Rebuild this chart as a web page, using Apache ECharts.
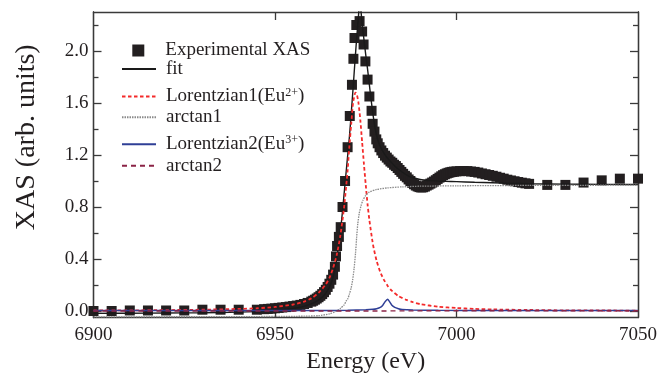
<!DOCTYPE html>
<html>
<head>
<meta charset="utf-8">
<script src="https://cdn.jsdelivr.net/npm/echarts@6/dist/echarts.min.js"></script>
<style>html,body{margin:0;padding:0;background:#fff}#c{width:660px;height:382px}</style>
</head>
<body>
<div id="c"></div>
<script>
// ---- Experimental XAS (energy in eV, normalized XAS) ----
const expEnergy = [6900,6905,6910,6915,6920,6925,6930,6935,6940,6945,
  6947,6948,6949,6950,6951,6952,6953,6954,6955,6956,6957,6958,6959,6960,
  6960.5,6961,6961.5,6962,6962.5,6963,6963.5,6964,6964.5,6965,6965.5,6966,6966.5,6966.8,
  6967.1,6967.6,6968.1,6968.6,6969.3,6970.0,6970.6,6971.2,6971.6,6971.9,6972.4,6973.3,
  6974.0,6974.4,6974.9,6975.5,6976.0,6976.6,6976.9,6977.4,6977.9,6978.3,6978.8,6979.3,
  6979.8,6980.3,6980.8,6981.3,6981.8,6982.3,6982.8,6983.3,6983.8,6984.3,6984.8,6985.3,
  6985.8,6986.3,6986.8,6987.3,6987.8,6988.3,6988.8,6989.3,6989.8,6990.3,6990.8,6991.3,
  6991.8,6992.3,6992.8,6993.3,6993.8,6994.3,6994.8,6995.3,6995.8,6996.3,6996.8,6997.3,
  6997.8,6998.3,6998.8,6999.3,7000,7001,7002,7003,7004,7005,7006,7007,7008,7009,7010,
  7011,7012,7013,7014,7015,7016,7017,7018,7019,7020,
  7025,7030,7035,7040,7045,7050];
const expXAS = [0.0,0.0,0.004,0.004,0.004,0.004,0.01,0.01,0.01,0.01,
  0.014,0.016,0.018,0.021,0.024,0.027,0.030,0.034,0.038,0.042,0.047,0.054,0.062,0.072,
  0.079,0.087,0.096,0.106,0.117,0.130,0.145,0.163,0.185,0.21,0.24,0.28,0.34,0.42,
  0.50,0.57,0.645,0.80,1.0,1.26,1.5,1.74,1.94,2.1,2.2,2.23,
  2.15,2.05,1.92,1.78,1.65,1.54,1.44,1.38,1.32,1.29,1.26,1.235,
  1.215,1.195,1.18,1.165,1.15,1.14,1.125,1.115,1.10,1.085,1.07,1.055,
  1.04,1.028,1.012,1.0,0.985,0.975,0.965,0.958,0.953,0.95,0.952,0.957,
  0.965,0.972,0.98,0.988,0.996,1.006,1.016,1.026,1.036,1.045,1.052,1.058,
  1.063,1.067,1.07,1.072,1.074,1.076,1.077,1.076,1.073,1.07,1.065,1.058,1.052,1.046,1.04,
  1.033,1.025,1.018,1.01,1.004,0.998,0.992,0.987,0.982,0.978,
  0.97,0.97,0.988,1.005,1.018,1.018];

// ---- fit ----
const fitEnergy = [6900,6910,6920,6930,6940,6945,6950,6953,6956,6958,6960,6962,6963,6964,6965,6966,
  6967,6967.5,6968,6968.5,6969,6969.5,6970,6970.5,6971,6971.5,6972,6972.5,6973,6973.3,6973.6,
  6974,6974.5,6975,6975.5,6976,6976.5,6977,6977.5,6978,6978.5,6979,6980,6981,6982,6983,6984,
  6985,6986,6987,6988,6990,6993,6997,7000,7005,7010,7015,7020,7030,7040,7050];
const fitXAS = [-0.018,-0.017,-0.015,-0.013,-0.009,-0.004,0.004,0.012,0.024,0.036,0.054,0.084,0.106,0.138,0.185,0.26,
  0.40,0.50,0.61,0.74,0.89,1.04,1.19,1.34,1.52,1.71,1.91,2.10,2.27,2.36,2.33,
  2.21,2.09,1.97,1.86,1.74,1.62,1.51,1.42,1.35,1.30,1.265,1.215,1.175,1.145,1.115,1.09,
  1.07,1.05,1.035,1.025,1.012,1.003,0.998,0.995,0.99,0.986,0.982,0.979,0.976,0.974,0.973];

// ---- Lorentzian1 (Eu2+) ----
const lor1Energy = [6900,6910,6920,6930,6940,6945,6950,6955,6958,6960,6962,6964,6965,6966,6967,6968,6969,
  6970,6970.5,6971,6971.5,6972,6972.2,6972.6,6973,6973.5,6974,6974.5,6975,6975.5,6976,6977,6978,
  6979,6980,6981,6982,6984,6986,6988,6990,6995,7000,7005,7010,7020,7030,7040,7050];
const lor1XAS = [0.004,0.005,0.007,0.01,0.016,0.021,0.031,0.05,0.072,0.097,0.14,0.205,0.255,0.33,0.43,0.58,0.79,
  1.08,1.27,1.44,1.60,1.67,1.68,1.66,1.60,1.47,1.30,1.13,0.97,0.82,0.70,0.51,0.385,
  0.30,0.24,0.195,0.16,0.115,0.088,0.068,0.053,0.033,0.023,0.016,0.012,0.008,0.005,0.004,0.003];

// ---- arctan1 ----
const atan1Energy = [6900,6930,6950,6958,6962,6965,6967,6968,6969,6969.6,6970,6970.5,6971,6971.4,6971.8,
  6972.2,6972.5,6972.8,6973.2,6973.7,6974.2,6975,6976,6978,6981,6985,6990,7000,7020,7050];
const atan1XAS = [-0.045,-0.044,-0.042,-0.04,-0.036,-0.022,0.0,0.02,0.045,0.077,0.09,0.13,0.18,0.24,0.33,
  0.45,0.57,0.67,0.75,0.81,0.85,0.89,0.915,0.935,0.947,0.955,0.96,0.963,0.966,0.968];

// ---- Lorentzian2 (Eu3+) ----
const lor2Energy = [6900,6960,6970,6975,6977,6978,6979,6979.7,6980.3,6981.0,6981.6,6982.2,6983,6984,6985,6988,6995,7010,7050];
const lor2XAS = [0.003,0.004,0.006,0.009,0.013,0.018,0.028,0.045,0.07,0.09,0.07,0.045,0.028,0.018,0.011,0.007,0.005,0.004,0.003];

// ---- arctan2 ----
const atan2Energy = [6900,6950,6975,6985,7000,7050];
const atan2XAS = [0.0,0.0,0.0,0.001,0.002,0.002];

// ---- axis ticks ----
const xLabels = [6900,6950,7000,7050];
const xTicks = [6950,7000];
const yLabels = [0,0.4,0.8,1.2,1.6,2.0];
const yMinor = [0.2,0.6,1.0,1.4,1.8,2.2];

const pair = (xs, ys) => xs.map((x, i) => [x, ys[i]]);
const FONT = 'Liberation Serif';
const INK = '#231f20';
const AX = '#3a3a3a';

const chart = echarts.init(document.getElementById('c'), null, {renderer: 'canvas'});

const txt = {fontFamily: FONT, fontSize: 19, color: INK, lineHeight: 20};
const rich = {
  n: {fontFamily: FONT, fontSize: 19, color: INK, lineHeight: 20},
  sup: {fontFamily: FONT, fontSize: 12, color: INK, lineHeight: 9, verticalAlign: 'top'}
};
function leg(name, left, top, w, h, pad, fmt, hideSymbol) {
  const o = {
    data: [name], left: left, top: top, orient: 'vertical', padding: 0,
    itemWidth: w, itemHeight: h, selectedMode: false,
    textStyle: Object.assign({}, txt, {padding: [0, 0, 0, pad], rich: rich})
  };
  if (hideSymbol) o.itemStyle = {opacity: 0};
  if (fmt) o.formatter = fmt;
  return o;
}

const yBase = {type: 'value', min: -0.05, max: 2.3, splitLine: {show: false},
  axisLine: {show: true, onZero: false, lineStyle: {color: AX, width: 1.3}}};
const xBase = {type: 'value', min: 6900, max: 7050, splitLine: {show: false},
  axisLine: {show: true, onZero: false, lineStyle: {color: AX, width: 1.3}}};

chart.setOption({
  animation: false,
  backgroundColor: '#fff',
  grid: {left: 93.5, right: 21.5, top: 12, bottom: 64.5, containLabel: false},
  xAxis: [
    Object.assign({}, xBase, {
      position: 'bottom',
      axisTick: {show: true, inside: true, length: 8, customValues: xTicks, lineStyle: {color: AX, width: 1.3}},
      axisLabel: {show: true, customValues: xLabels, fontFamily: FONT, fontSize: 19, color: INK, margin: 8,
        formatter: v => String(v)},
      name: 'Energy (eV)', nameLocation: 'middle', nameGap: 27,
      nameTextStyle: {fontFamily: FONT, fontSize: 24, color: INK}
    }),
    Object.assign({}, xBase, {
      position: 'top',
      axisTick: {show: true, inside: true, length: 8, customValues: xTicks, lineStyle: {color: AX, width: 1.3}},
      axisLabel: {show: false}
    })
  ],
  yAxis: [
    Object.assign({}, yBase, {
      position: 'left',
      axisTick: {show: true, inside: true, length: 8, customValues: yLabels, lineStyle: {color: AX, width: 1.3}},
      axisLabel: {show: true, customValues: yLabels, fontFamily: FONT, fontSize: 19, color: INK, margin: 5,
        formatter: v => v.toFixed(1)},
      name: 'XAS (arb. units)', nameLocation: 'middle', nameGap: 53,
      nameTextStyle: {fontFamily: FONT, fontSize: 28, color: INK, padding: [0, 0, 0, 55]}
    }),
    Object.assign({}, yBase, {
      position: 'left',
      axisTick: {show: true, inside: true, length: 5, customValues: yMinor, lineStyle: {color: AX, width: 1.3}},
      axisLabel: {show: false}
    }),
    Object.assign({}, yBase, {
      position: 'right',
      axisTick: {show: true, inside: true, length: 8, customValues: yLabels, lineStyle: {color: AX, width: 1.3}},
      axisLabel: {show: false}
    }),
    Object.assign({}, yBase, {
      position: 'right',
      axisTick: {show: true, inside: true, length: 5, customValues: yMinor, lineStyle: {color: AX, width: 1.3}},
      axisLabel: {show: false}
    })
  ],
  legend: [
    leg('Experimental XAS', 132.3, 40.5, 12, 12, 16),
    leg('fit', 121, 59, 34, 20, 5, null, true),
    leg('Lorentzian1(Eu2+)', 121, 86.5, 34, 20, 5, () => '{n|Lorentzian1(Eu}{sup|2+}{n|)}', true),
    leg('arctan1', 121, 107.3, 34, 20, 5, null, true),
    leg('Lorentzian2(Eu3+)', 121, 134.3, 34, 20, 5, () => '{n|Lorentzian2(Eu}{sup|3+}{n|)}', true),
    leg('arctan2', 121, 155.7, 34, 20, 5, null, true)
  ],
  series: [
    {name: 'Experimental XAS', type: 'scatter', data: pair(expEnergy, expXAS),
      symbol: 'rect', symbolSize: 10, itemStyle: {color: INK, opacity: 1}, z: 2},
    {name: 'fit', type: 'line', data: pair(fitEnergy, fitXAS), symbol: 'none', smooth: 0.2,
      lineStyle: {color: '#1a1a1a', width: 1.4}, itemStyle: {color: '#1a1a1a'}, z: 3},
    {name: 'Lorentzian1(Eu2+)', type: 'line', data: pair(lor1Energy, lor1XAS), symbol: 'none', smooth: 0.2,
      lineStyle: {color: '#f42a2a', width: 1.8, type: [3.5, 2.5]}, itemStyle: {color: '#f42a2a'}, z: 4},
    {name: 'arctan1', type: 'line', data: pair(atan1Energy, atan1XAS), symbol: 'none', smooth: 0.2,
      lineStyle: {color: '#8a8a8a', width: 1.3, type: [1.5, 1]}, itemStyle: {color: '#8a8a8a'}, z: 4},
    {name: 'Lorentzian2(Eu3+)', type: 'line', data: pair(lor2Energy, lor2XAS), symbol: 'none', smooth: 0.2,
      lineStyle: {color: '#2f3f96', width: 1.5}, itemStyle: {color: '#2f3f96'}, z: 4},
    {name: 'arctan2', type: 'line', data: pair(atan2Energy, atan2XAS), symbol: 'none',
      lineStyle: {color: '#8b2346', width: 1.4, type: [5, 4]}, itemStyle: {color: '#8b2346'}, z: 5}
  ]
});
</script>
</body>
</html>
